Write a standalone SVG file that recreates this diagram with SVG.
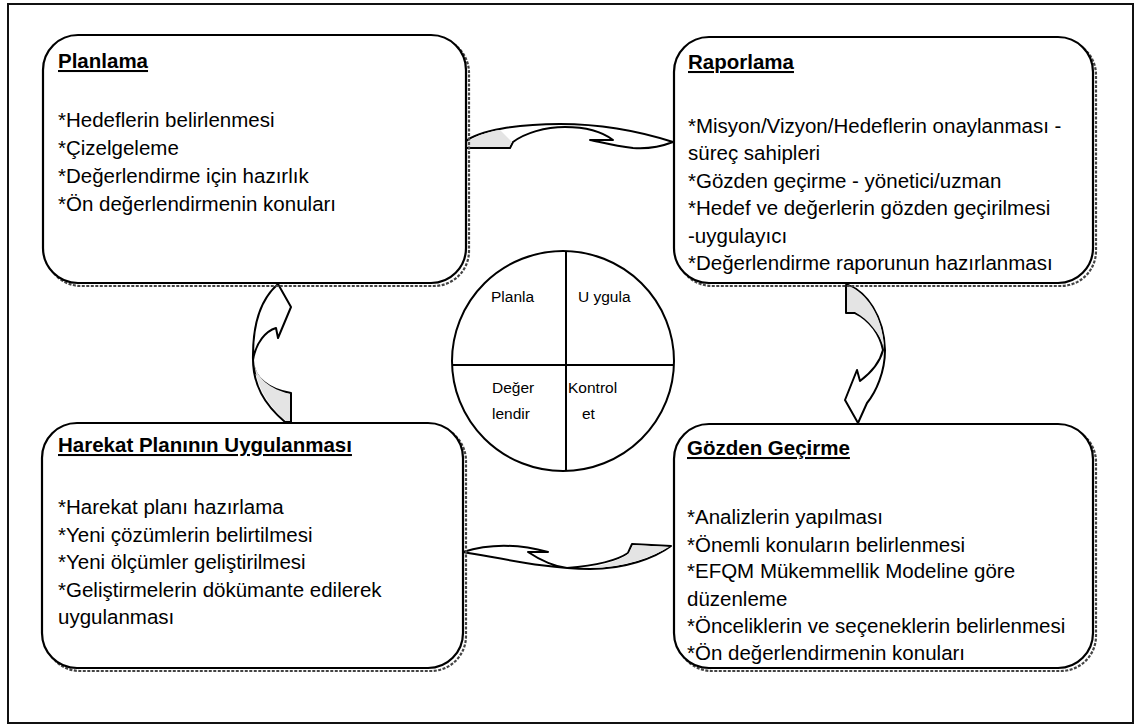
<svg xmlns="http://www.w3.org/2000/svg" width="1141" height="726" viewBox="0 0 1141 726">
  <style>
    .frame { fill: #ffffff; stroke: #111111; stroke-width: 2; }
    .box { fill: #ffffff; stroke: #000000; stroke-width: 2.2; }
    .shadow { fill: none; stroke: #444444; stroke-width: 2.2; stroke-dasharray: 3 1.5; }
    .title { font-family: "Liberation Sans", Arial, sans-serif; font-size: 20.5px; font-weight: bold; fill: #000000; text-decoration: underline; }
    .item { font-family: "Liberation Sans", Arial, sans-serif; font-size: 20.5px; fill: #000000; }
    .cyc { font-family: "Liberation Sans", Arial, sans-serif; font-size: 15.5px; fill: #000000; }
    .arrow { fill: #ffffff; stroke: #000000; stroke-width: 2; stroke-linejoin: round; }
    .shade { fill: #e4e4e4; stroke: none; }
    .cycle { fill: #ffffff; stroke: #000000; stroke-width: 2; }
  </style>

  <!-- page frame -->
  <rect class="frame" x="8" y="4" width="1125" height="719"/>

  <!-- curved arrows between the four stages -->
  <g id="connectors">
    <!-- Planlama -> Raporlama -->
    <path class="arrow" d="M465,142 C478,130 520,124 560,124 C605,124 645,133 673,142 C660,147 645,149 633,148 C615,146 600,142 590,140 L613,140 C600,130 580,127 565,127 C545,127 525,133 513,142 L510,148 L465,148 Z"/>
    <path class="shade" d="M466,143 C475,136 490,131 500,130 L512,142 L509,147 L466,147 Z"/>
    <!-- Raporlama -> Gözden Geçirme -->
    <path class="arrow" d="M846,285 L848,285 C866,292 884,315 885,350 C885,372 876,392 867,403 L858,423 L845,400 L857,370 L860,381 C872,372 880,362 883,350 C880,335 870,320 855,313 L846,313 Z"/>
    <path class="shade" d="M849,286 C866,293 882,315 884,346 C879,333 869,320 855,312 L847,312 L847,286 Z"/>
    <!-- Gözden Geçirme -> Harekat Planının Uygulanması -->
    <path class="arrow" d="M463,552 C485,545 515,543 548,552 L528,552 C540,560 552,566 567,568 C590,566 615,562 628,553 L632,544 L671,546 C655,558 625,569 590,569 C550,569 510,560 463,552 Z"/>
    <path class="shade" d="M592,567 C610,564 624,558 629,553 L633,545 L669,547 C652,557 625,567 592,568 Z"/>
    <!-- Harekat Planının Uygulanması -> Planlama -->
    <path class="arrow" d="M278,284 L291,307 L278,338 L276,328 C266,331 256,342 253,360 C253,378 270,390 291,393 L291,422 L285,422 C265,405 252,385 253,355 C253,320 262,298 278,284 Z"/>
    <path class="shade" d="M254,362 C256,378 270,389 290,394 L290,421 L286,421 C268,405 257,388 254,362 Z"/>
  </g>

  <!-- Planlama -->
  <g id="node-planlama">
    <rect class="shadow" x="46" y="38" width="423" height="248" rx="35" ry="35"/>
    <rect class="box" x="43" y="35" width="423" height="248" rx="35" ry="35"/>
    <text class="title" x="58" y="68">Planlama</text>
    <text class="item" x="58" y="127">*Hedeflerin belirlenmesi</text>
    <text class="item" x="58" y="155">*Çizelgeleme</text>
    <text class="item" x="58" y="183">*Değerlendirme için hazırlık</text>
    <text class="item" x="58" y="211">*Ön değerlendirmenin konuları</text>
  </g>

  <!-- Raporlama -->
  <g id="node-raporlama">
    <rect class="shadow" x="677" y="40" width="419" height="246" rx="35" ry="35"/>
    <rect class="box" x="674" y="37" width="419" height="246" rx="35" ry="35"/>
    <text class="title" x="688" y="69">Raporlama</text>
    <text class="item" x="688" y="133">*Misyon/Vizyon/Hedeflerin onaylanması -</text>
    <text class="item" x="688" y="160">süreç sahipleri</text>
    <text class="item" x="688" y="188">*Gözden geçirme - yönetici/uzman</text>
    <text class="item" x="688" y="215">*Hedef ve değerlerin gözden geçirilmesi</text>
    <text class="item" x="688" y="243">-uygulayıcı</text>
    <text class="item" x="688" y="270">*Değerlendirme raporunun hazırlanması</text>
  </g>

  <!-- Harekat Planının Uygulanması -->
  <g id="node-harekat">
    <rect class="shadow" x="45" y="426" width="421" height="245" rx="35" ry="35"/>
    <rect class="box" x="42" y="423" width="421" height="245" rx="35" ry="35"/>
    <text class="title" x="58" y="452">Harekat Planının Uygulanması</text>
    <text class="item" x="58" y="514">*Harekat planı hazırlama</text>
    <text class="item" x="58" y="542">*Yeni çözümlerin belirtilmesi</text>
    <text class="item" x="58" y="569">*Yeni ölçümler geliştirilmesi</text>
    <text class="item" x="58" y="597">*Geliştirmelerin dökümante edilerek</text>
    <text class="item" x="58" y="624">uygulanması</text>
  </g>

  <!-- Gözden Geçirme -->
  <g id="node-gozden">
    <rect class="shadow" x="677" y="427" width="419" height="244" rx="35" ry="35"/>
    <rect class="box" x="674" y="424" width="419" height="244" rx="35" ry="35"/>
    <text class="title" x="687" y="455">Gözden Geçirme</text>
    <text class="item" x="687" y="524">*Analizlerin yapılması</text>
    <text class="item" x="687" y="552">*Önemli konuların belirlenmesi</text>
    <text class="item" x="687" y="578">*EFQM Mükemmellik Modeline göre</text>
    <text class="item" x="687" y="606">düzenleme</text>
    <text class="item" x="687" y="633">*Önceliklerin ve seçeneklerin belirlenmesi</text>
    <text class="item" x="687" y="660">*Ön değerlendirmenin konuları</text>
  </g>

  <!-- central PDCA wheel -->
  <g id="node-cycle">
    <ellipse class="cycle" cx="563" cy="361" rx="111" ry="110"/>
    <line x1="566" y1="251" x2="566" y2="471" stroke="#000" stroke-width="2"/>
    <line x1="452" y1="365" x2="674" y2="365" stroke="#000" stroke-width="2"/>
    <text class="cyc" x="491" y="302">Planla</text>
    <text class="cyc" x="578" y="302">U ygula</text>
    <text class="cyc" x="492" y="393">Değer</text>
    <text class="cyc" x="492" y="419">lendir</text>
    <text class="cyc" x="568" y="393">Kontrol</text>
    <text class="cyc" x="582" y="419">et</text>
  </g>
</svg>
